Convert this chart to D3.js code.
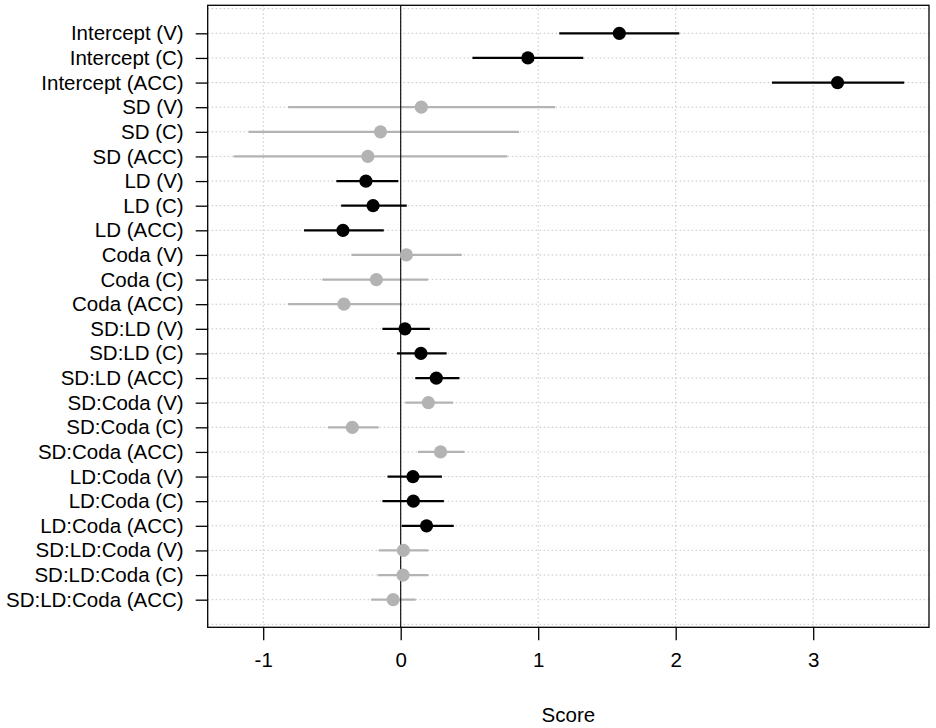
<!DOCTYPE html>
<html>
<head>
<meta charset="utf-8">
<script src="https://cdn.jsdelivr.net/npm/d3@7"></script>
<style>
  html, body { margin: 0; padding: 0; background: #fff; }
  svg { display: block; }
  text { font-family: "Liberation Sans", Arial, sans-serif; }
</style>
</head>
<body>
<svg id="chart" width="936" height="728"></svg>
<script>
const terms = [
  "Intercept (V)", "Intercept (C)", "Intercept (ACC)",
  "SD (V)", "SD (C)", "SD (ACC)",
  "LD (V)", "LD (C)", "LD (ACC)",
  "Coda (V)", "Coda (C)", "Coda (ACC)",
  "SD:LD (V)", "SD:LD (C)", "SD:LD (ACC)",
  "SD:Coda (V)", "SD:Coda (C)", "SD:Coda (ACC)",
  "LD:Coda (V)", "LD:Coda (C)", "LD:Coda (ACC)",
  "SD:LD:Coda (V)", "SD:LD:Coda (C)", "SD:LD:Coda (ACC)"
];
const estimates = [
  1.59, 0.925, 3.177,
  0.150, -0.147, -0.239,
  -0.253, -0.201, -0.420,
  0.041, -0.177, -0.413,
  0.031, 0.147, 0.259,
  0.201, -0.352, 0.290,
  0.089, 0.092, 0.188,
  0.020, 0.017, -0.055
];
const lower = [
  1.153, 0.522, 2.700,
  -0.819, -1.106, -1.215,
  -0.468, -0.433, -0.703,
  -0.358, -0.570, -0.819,
  -0.133, -0.027, 0.106,
  0.034, -0.529, 0.126,
  -0.096, -0.133, 0.007,
  -0.160, -0.167, -0.215
];
const upper = [
  2.026, 1.328, 3.662,
  1.123, 0.860, 0.775,
  -0.017, 0.044, -0.123,
  0.444, 0.198, 0.010,
  0.212, 0.334, 0.427,
  0.382, -0.160, 0.464,
  0.300, 0.314, 0.386,
  0.201, 0.201, 0.109
];
const significant = [
  true, true, true,
  false, false, false,
  true, true, true,
  false, false, false,
  true, true, true,
  false, false, false,
  true, true, true,
  false, false, false
];
const xTicks = [-1, 0, 1, 2, 3];
const xLabel = "Score";

const rows = terms.map((t, i) => ({
  term: t, pos: i + 1, est: estimates[i], lo: lower[i], hi: upper[i], sig: significant[i]
}));

const svg = d3.select("#chart");
const box = { left: 207.7, right: 929, top: 5.3, bottom: 627.3 };
const fontSize = 20.5;

const x = d3.scaleLinear().domain([-1, 3]).range([263.2, 813.2]);
const y = d3.scaleLinear().domain([0, 25]).range([8.7, 624.3]);

const fg = "#000";
const grey = "#b3b3b3";
const gridCol = "#c4c4c4";

// grid
const grid = svg.append("g");
grid.selectAll("line.h").data(d3.range(0, 26)).enter().append("line")
  .attr("x1", box.left).attr("x2", box.right)
  .attr("y1", d => y(d)).attr("y2", d => y(d))
  .attr("stroke", gridCol).attr("stroke-width", 1).attr("stroke-dasharray", "1.5,2.5");
grid.selectAll("line.v").data(xTicks).enter().append("line")
  .attr("x1", d => x(d)).attr("x2", d => x(d))
  .attr("y1", box.top).attr("y2", box.bottom)
  .attr("stroke", gridCol).attr("stroke-width", 1).attr("stroke-dasharray", "1.5,2.5");

// intervals
svg.append("g").selectAll("line").data(rows).enter().append("line")
  .attr("x1", d => x(d.lo)).attr("x2", d => x(d.hi))
  .attr("y1", d => y(d.pos)).attr("y2", d => y(d.pos))
  .attr("stroke", d => d.sig ? fg : grey).attr("stroke-width", 2.2);

// zero line
svg.append("line")
  .attr("x1", x(0)).attr("x2", x(0))
  .attr("y1", box.top).attr("y2", box.bottom)
  .attr("stroke", "#000").attr("stroke-width", 1.1);

// points
svg.append("g").selectAll("circle").data(rows).enter().append("circle")
  .attr("cx", d => x(d.est)).attr("cy", d => y(d.pos)).attr("r", 6.6)
  .attr("fill", d => d.sig ? fg : grey);

// box
svg.append("rect")
  .attr("x", box.left).attr("y", box.top)
  .attr("width", box.right - box.left).attr("height", box.bottom - box.top)
  .attr("fill", "none").attr("stroke", "#000").attr("stroke-width", 1.3);

// x axis
const xAxis = d3.axisBottom(x).tickValues(xTicks).tickSize(13).tickPadding(12)
  .tickFormat(d3.format("d"));
const gx = svg.append("g").attr("transform", `translate(0,${box.bottom})`).call(xAxis);
gx.select(".domain").remove();
gx.selectAll(".tick line").attr("stroke", "#000").attr("stroke-width", 1.3);
gx.selectAll(".tick text").attr("font-size", fontSize).attr("fill", "#000")
  .attr("font-family", "Liberation Sans, Arial, sans-serif")
  .text(d => d < 0 ? "-" + Math.abs(d) : d);

// y axis
const yAxis = d3.axisLeft(y).tickValues(rows.map(r => r.pos)).tickSize(12).tickPadding(12)
  .tickFormat(d => terms[d - 1]);
const gy = svg.append("g").attr("transform", `translate(${box.left},0)`).call(yAxis);
gy.select(".domain").remove();
gy.selectAll(".tick line").attr("stroke", "#000").attr("stroke-width", 1.3);
gy.selectAll(".tick text").attr("font-size", fontSize).attr("fill", "#000")
  .attr("font-family", "Liberation Sans, Arial, sans-serif");

// x label
svg.append("text")
  .attr("x", (box.left + box.right) / 2).attr("y", 722)
  .attr("text-anchor", "middle").attr("font-size", fontSize).attr("fill", "#000")
  .text(xLabel);
</script>
</body>
</html>
